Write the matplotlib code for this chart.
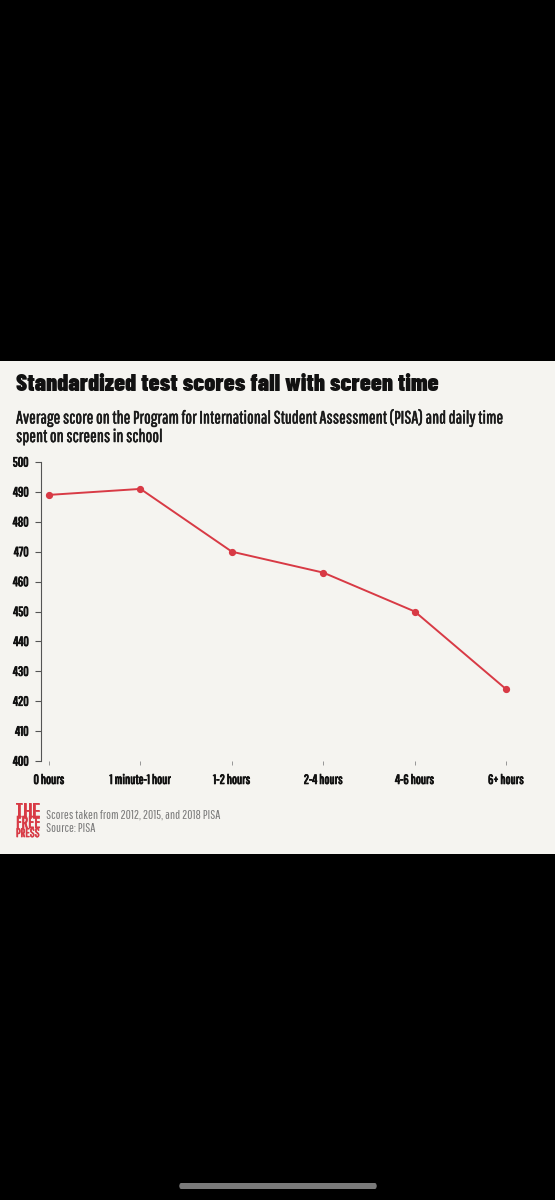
import matplotlib
matplotlib.use('Agg')
import matplotlib.pyplot as plt
import matplotlib.patheffects as pe
from matplotlib.patches import Rectangle, FancyBboxPatch

# data
categories = ['0 hours', '1 minute-1 hour', '1-2 hours', '2-4 hours', '4-6 hours', '6+ hours']
scores = [489, 491, 470, 463, 450, 424]
y_ticks = [400, 410, 420, 430, 440, 450, 460, 470, 480, 490, 500]

W, H = 555, 1200
bg = '#f5f4f0'
red = '#d83a45'
title_font = ['Barlow Condensed', 'DejaVu Sans']
body_font = ['Pathway Gothic One', 'DejaVu Sans']
bold = [pe.withStroke(linewidth=0.6, foreground='#111111')]
semi = [pe.withStroke(linewidth=0.35, foreground='#1a1a1a')]

fig = plt.figure(figsize=(W / 100, H / 100), dpi=100, facecolor='black')

# beige card behind everything
card = Rectangle((0, 1 - 854 / H), 1, (854 - 361) / H, transform=fig.transFigure,
                 facecolor=bg, edgecolor='none', zorder=-10)
fig.patches.append(card)
# phone home indicator
fig.patches.append(FancyBboxPatch((179 / W, 1 - 1189 / H), 198 / W, 6 / H,
                                  boxstyle='round,pad=0,rounding_size=0.004',
                                  transform=fig.transFigure, facecolor='#7a7a7a',
                                  edgecolor='none', zorder=-10))

# axes: spine at x=41, 500 at y=462, 400 at y=761
ax = fig.add_axes([41 / W, 1 - 761 / H, (540 - 41) / W, (761 - 462) / H])
ax.set_zorder(5)
ax.set_facecolor('none')
x = list(range(len(categories)))
ax.plot(x, scores, color=red, lw=1.4, marker='o', ms=4.2, zorder=3, clip_on=False)
ax.set_xlim(-0.088, 5.37)
ax.set_ylim(400, 500)
ax.set_yticks(y_ticks)
ax.set_yticklabels([str(t) for t in y_ticks], fontfamily=body_font, fontsize=9.5,
                   color='#111111', path_effects=bold)
ax.set_xticks(x)
ax.set_xticklabels(categories, fontfamily=body_font, fontsize=9.5, color='#111111',
                   path_effects=bold)
for s in ['top', 'right', 'bottom']:
    ax.spines[s].set_visible(False)
ax.spines['left'].set_color('#555555')
ax.spines['left'].set_linewidth(0.8)
ax.tick_params(axis='y', length=4, width=0.8, color='#555555', pad=5)
ax.tick_params(axis='x', length=3, width=0.6, color='#888888', pad=7, direction='out')

# title and subtitle
fig.text(16 / W, 1 - 384 / H, 'Standardized test scores fall with screen time',
         fontfamily=title_font, fontweight=900, fontsize=17.5, color='#111111', va='center')
fig.text(16 / W, 1 - 418 / H, 'Average score on the Program for International Student Assessment (PISA) and daily time',
         fontfamily=body_font, fontsize=12.8, color='#1a1a1a', va='center', path_effects=semi)
fig.text(16 / W, 1 - 437 / H, 'spent on screens in school',
         fontfamily=body_font, fontsize=12.8, color='#1a1a1a', va='center', path_effects=semi)

# logo: each line sized to the same 24px width, stacked on baselines
logo_lines = [('THE', 818, 15), ('FREE', 828, 10), ('PRESS', 837, 8)]
renderer = fig.canvas.get_renderer()
for word, yy, fs in logo_lines:
    t = fig.text(16 / W, 1 - yy / H, word, fontfamily=body_font, fontsize=fs,
                 color=red, va='baseline', path_effects=[pe.withStroke(linewidth=0.5, foreground=red)])
    w = t.get_window_extent(renderer).width
    t.set_fontsize(fs * 24 / w)

fig.text(46 / W, 1 - 815 / H, 'Scores taken from 2012, 2015, and 2018 PISA',
         fontfamily=body_font, fontsize=9.4, color='#7a7a7a', va='center')
fig.text(46 / W, 1 - 829 / H, 'Source: PISA',
         fontfamily=body_font, fontsize=9.4, color='#7a7a7a', va='center')

fig.savefig('out.png', dpi=100, facecolor='black')
